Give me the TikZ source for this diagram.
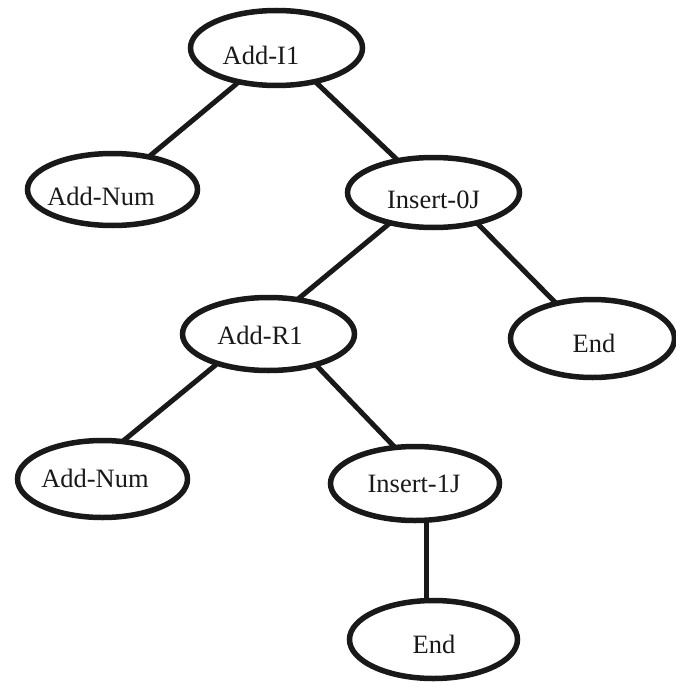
\documentclass[tikz,border=0pt]{standalone}
\usepackage{fontspec}
\setmainfont{Liberation Serif}
\usetikzlibrary{shapes.geometric}
\begin{document}
\begin{tikzpicture}[x=1pt,y=-1pt,
  oval/.style={draw=black!90, line width=5.5pt, ellipse, inner sep=0pt, outer sep=0pt},
  lbl/.style={anchor=base, inner sep=0pt, font=\fontsize{26.5}{30}\selectfont, text=black!90},
  edge/.style={draw=black!90, line width=5pt}]
\useasboundingbox (0,0) rectangle (675,682);
% ellipses
\node[oval, minimum width=172pt, minimum height=75pt] (a) at (276.5,48) {};
\node[oval, minimum width=170pt, minimum height=72pt] (b) at (112.5,189.5) {};
\node[oval, minimum width=172pt, minimum height=70pt] (c) at (433.5,192.5) {};
\node[oval, minimum width=172pt, minimum height=73pt] (d) at (268.5,334) {};
\node[oval, minimum width=164pt, minimum height=78pt] (e) at (592.5,338.5) {};
\node[oval, minimum width=170pt, minimum height=77pt] (f) at (102.5,479) {};
\node[oval, minimum width=169pt, minimum height=74pt] (g) at (415,483.5) {};
\node[oval, minimum width=168pt, minimum height=78pt] (h) at (433.5,639.5) {};
% labels
\node[lbl] (ta) at (261,65) {Add-I1};
\node[lbl] (tb) at (101,205) {Add-Num};
\node[lbl] (tc) at (433.5,208) {Insert-0J};
\node[lbl] (td) at (260,344) {Add-R1};
\node[lbl] (te) at (594,352) {End};
\node[lbl] (tf) at (95,487) {Add-Num};
\node[lbl] (tg) at (414,492.5) {Insert-1J};
\node[lbl] (th) at (434,653) {End};
% connectors
\draw[edge] (a.-138) -- (b.42.7);
\draw[edge] (a.-41.3) -- (c.138.7);
\draw[edge] (c.-145.7) -- (d.50.3);
\draw[edge] (c.-35.9) -- (e.136.5);
\draw[edge] (d.-150.7) -- (f.62.4);
\draw[edge] (d.-33.4) -- (g.119.6);
\draw[edge] (g.-73) -- (g.-73 |- h.north);
\end{tikzpicture}
\end{document}
